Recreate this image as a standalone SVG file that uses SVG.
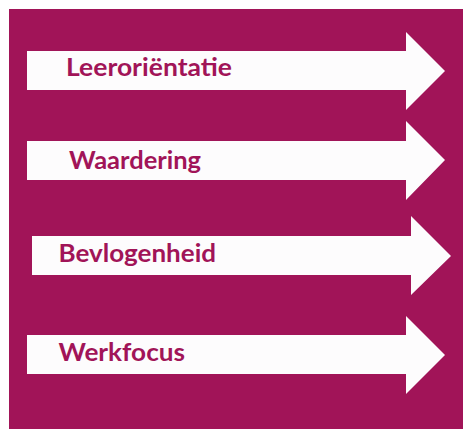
<svg xmlns="http://www.w3.org/2000/svg" width="463" height="429" viewBox="0 0 463 429">
<style>
.bg{fill:#A11458}
.arrow{fill:#FDFCFD}
.label{font-family:Lato,"Liberation Sans",sans-serif;font-weight:bold;font-size:24.5px;fill:#A11458}
</style>
<rect x="0" y="0" width="463" height="429" fill="#FFFFFF"/>
<rect class="bg" x="9" y="9" width="454" height="420"/>
<g id="node-leeroriëntatie">
<polygon class="arrow" points="27,51 406,51 406,32 445,71 406,110 406,90 27,90"/>
<text class="label" x="66" y="76" textLength="166" lengthAdjust="spacingAndGlyphs">Leeroriëntatie</text>
</g>
<g id="node-waardering">
<polygon class="arrow" points="27,141 406,141 406,121 445,160 406,200 406,180 27,180"/>
<text class="label" x="69" y="169" textLength="132" lengthAdjust="spacingAndGlyphs">Waardering</text>
</g>
<g id="node-bevlogenheid">
<polygon class="arrow" points="32,236 411,236 411,216 451,256 411,295 411,275 32,275"/>
<text class="label" x="58.5" y="262" textLength="157.5" lengthAdjust="spacingAndGlyphs">Bevlogenheid</text>
</g>
<g id="node-werkfocus">
<polygon class="arrow" points="27,335 406,335 406,316 445,355 406,394 406,374 27,374"/>
<text class="label" x="58.5" y="361" textLength="126.5" lengthAdjust="spacingAndGlyphs">Werkfocus</text>
</g>
<g id="connectors"></g>
</svg>
